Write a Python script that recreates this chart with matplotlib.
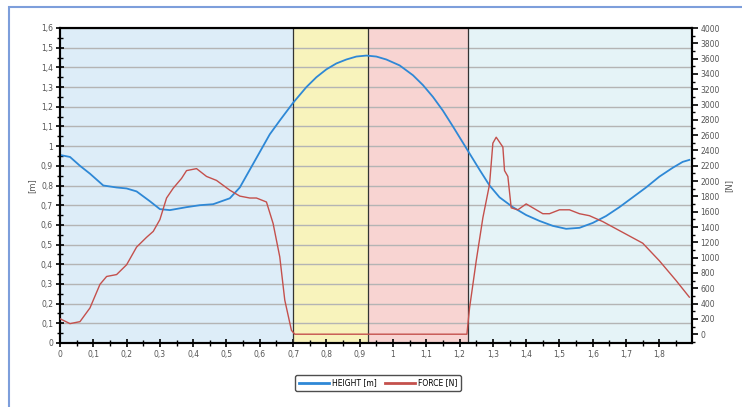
import numpy as np
import matplotlib.pyplot as plt
from matplotlib.ticker import MultipleLocator, FuncFormatter
from matplotlib.patches import Rectangle

# phase borders (s)
phase_x = [0.0, 0.7, 0.924, 1.224, 1.898]
phase_colors = ['#ddedf8', '#f8f3bc', '#f8d4d2', '#e5f3f7']

# height [m]
t_h = [0, 0.03, 0.06, 0.09, 0.13, 0.17, 0.20, 0.23, 0.27, 0.30, 0.33, 0.38, 0.42,
       0.46, 0.51, 0.54, 0.57, 0.60, 0.63, 0.66, 0.70, 0.74, 0.77, 0.80, 0.83,
       0.86, 0.89, 0.92, 0.95, 0.98, 1.02, 1.06, 1.09, 1.12, 1.15, 1.18, 1.22,
       1.26, 1.29, 1.32, 1.36, 1.40, 1.44, 1.48, 1.52, 1.56, 1.60, 1.64, 1.68,
       1.72, 1.76, 1.80, 1.84, 1.87, 1.89]
height = [0.955, 0.945, 0.90, 0.86, 0.80, 0.79, 0.785, 0.77, 0.72, 0.68, 0.675, 0.69, 0.70,
          0.705, 0.735, 0.79, 0.88, 0.97, 1.06, 1.13, 1.22, 1.30, 1.35, 1.39, 1.42,
          1.44, 1.455, 1.46, 1.455, 1.44, 1.41, 1.36, 1.31, 1.25, 1.18, 1.10, 0.99,
          0.88, 0.80, 0.74, 0.69, 0.65, 0.62, 0.595, 0.58, 0.585, 0.61, 0.645, 0.69,
          0.74, 0.79, 0.845, 0.89, 0.92, 0.93]

# force [N]
t_f = [0, 0.03, 0.06, 0.09, 0.12, 0.14, 0.17, 0.20, 0.23, 0.26, 0.28, 0.30, 0.32,
       0.34, 0.365, 0.38, 0.41, 0.44, 0.47, 0.51, 0.54, 0.57, 0.59, 0.62, 0.64,
       0.66, 0.675, 0.695, 0.705, 0.80, 0.90, 1.00, 1.10, 1.20, 1.222, 1.23, 1.25,
       1.27, 1.29, 1.30, 1.31, 1.33, 1.335, 1.345, 1.355, 1.375, 1.40, 1.42, 1.45,
       1.47, 1.50, 1.53, 1.56, 1.59, 1.63, 1.69, 1.75, 1.80, 1.85, 1.89]
force = [202, 138, 164, 343, 651, 754, 779, 907, 1138, 1266, 1343, 1497, 1779,
         1907, 2035, 2137, 2163, 2061, 2009, 1881, 1804, 1779, 1779, 1727, 1446,
         1010, 446, 51, 0, 0, 0, 0, 0, 0, 0, 343, 959,
         1522, 1958, 2496, 2573, 2445, 2137, 2061, 1651, 1625, 1702, 1651, 1574,
         1574, 1625, 1625, 1574, 1548, 1471, 1330, 1189, 959, 702, 484]

blue = '#2e88d6'
red = '#c4504c'


def comma(v, pos=None):
    return ('%g' % round(v, 2)).replace('.', ',')


fig = plt.figure(figsize=(7.42, 4.07), dpi=100)
ax = fig.add_axes([60 / 742, 1 - 343 / 407, 632 / 742, 315 / 407])
ax2 = ax.twinx()

# frame around the whole chart (bottom is cut off in the original)
fig.patches.append(Rectangle((9 / 742, -5 / 407), 740 / 742, 405 / 407,
                             transform=fig.transFigure, fill=False,
                             edgecolor='#7d9edb', lw=1.5))

# phase backgrounds
for i in range(len(phase_colors)):
    ax.axvspan(phase_x[i], phase_x[i + 1], color=phase_colors[i], zorder=0, lw=0)
for xv in phase_x[1:4]:
    ax.axvline(xv, color='#333333', lw=0.9, zorder=2)

ax.set_xlim(0, 1.898)
ax.set_ylim(0, 1.6)
ax2.set_ylim(-115, 4000)

ax.yaxis.grid(True, color='#b4b4b4', lw=1.0)
ax.set_axisbelow(True)

ax.plot(t_h, height, color=blue, lw=1.3, zorder=4, label='HEIGHT [m]')
ax2.plot(t_f, force, color=red, lw=1.0, zorder=3, label='FORCE [N]')

ax.xaxis.set_minor_locator(MultipleLocator(0.05))
ax.yaxis.set_major_locator(MultipleLocator(0.1))
ax.yaxis.set_minor_locator(MultipleLocator(0.05))
ax.xaxis.set_major_formatter(FuncFormatter(comma))
ax.yaxis.set_major_formatter(FuncFormatter(comma))
ax2.yaxis.set_major_locator(MultipleLocator(200))
ax2.yaxis.set_minor_locator(MultipleLocator(100))

ax.set_xticks([v / 10 for v in range(19)])
ax.tick_params(which='major', direction='inout', length=6, width=1.2,
               labelsize=5.5, labelcolor='#555555', pad=2)
ax.tick_params(which='minor', direction='inout', length=4, width=1.0)
ax2.tick_params(which='major', direction='out', length=4, width=1.2,
                labelsize=5.5, labelcolor='#555555', pad=2)
ax2.tick_params(which='minor', direction='out', length=2.5, width=1.0)

for a in (ax, ax2):
    for s in a.spines.values():
        s.set_linewidth(1.5)
        s.set_color('black')

ax.set_ylabel('[m]', fontsize=6, color='#555555', labelpad=3)
ax2.set_ylabel('[N]', fontsize=6, color='#555555', labelpad=3)

h1, l1 = ax.get_legend_handles_labels()
h2, l2 = ax2.get_legend_handles_labels()
leg = fig.legend(h1 + h2, l1 + l2, loc='center', bbox_to_anchor=(378 / 742, 1 - 383 / 407),
                 ncol=2, fontsize=5.5, frameon=True, fancybox=True, edgecolor='#222222',
                 handlelength=4, columnspacing=1.0, handletextpad=0.4,
                 borderpad=0.4)
leg.get_frame().set_linewidth(1.0)
for ln in leg.get_lines():
    ln.set_linewidth(2.0)

fig.savefig('out.png', dpi=100)
